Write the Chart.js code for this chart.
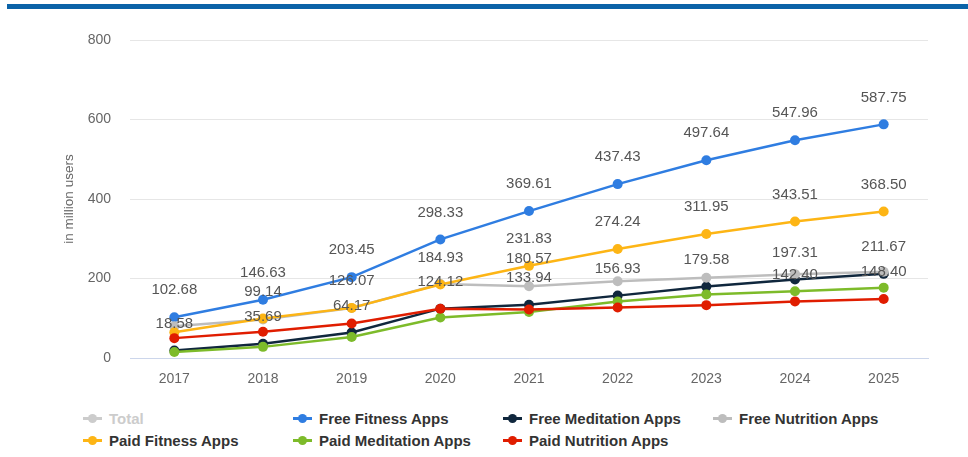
<!DOCTYPE html>
<html>
<head>
<meta charset="utf-8">
<script src="https://cdn.jsdelivr.net/npm/chart.js@4.4.1/dist/chart.umd.min.js"></script>
<style>
  body { margin: 0; background: #fff; font-family: "Liberation Sans", Arial, sans-serif; }
  #topbar { position: absolute; left: 7px; top: 4px; width: 961px; height: 5px; background: #0b63a8; }
  #wrap { position: absolute; left: 0; top: 0; width: 968px; height: 400px; }
  #legend { position: absolute; left: 83px; top: 409px; display: grid; grid-template-columns: repeat(4, 210px); row-gap: 4px; }
  .item { display: flex; align-items: center; height: 18px; font-size: 15px; font-weight: bold; color: #333; white-space: nowrap; }
  .item.off { color: #ccc; }
  .mark { position: relative; width: 19px; height: 10px; margin-right: 7px; }
  .mark .ln { position: absolute; left: 0; top: 4px; width: 19px; height: 2.5px; }
  .mark .dot { position: absolute; left: 5px; top: 1px; width: 9px; height: 9px; border-radius: 50%; }
</style>
</head>
<body>
<div id="topbar"></div>
<div id="wrap"><canvas id="line-chart"></canvas></div>
<div id="legend"></div>
<script>
const years = ['2017', '2018', '2019', '2020', '2021', '2022', '2023', '2024', '2025'];
const yTicks = [0, 200, 400, 600, 800];

const names = ['Total', 'Free Fitness Apps', 'Free Meditation Apps', 'Free Nutrition Apps',
  'Paid Fitness Apps', 'Paid Meditation Apps', 'Paid Nutrition Apps'];
const colors = ['#cccccc', '#2f7de1', '#10273d', '#bdbdbd', '#fdb515', '#7dbb2a', '#e01d00'];

// Total is switched off in the legend, so it stays empty
const total = [];
const freeFitness = [102.68, 146.63, 203.45, 298.33, 369.61, 437.43, 497.64, 547.96, 587.75];
const freeMeditation = [18.58, 35.69, 64.17, 124.12, 133.94, 156.93, 179.58, 197.31, 211.67];
const freeNutrition = [80, 97, 126, 186, 180.57, 193, 202, 211, 217];
const paidFitness = [65, 99.14, 126.07, 184.93, 231.83, 274.24, 311.95, 343.51, 368.50];
const paidMeditation = [15, 28, 53, 102, 116, 142, 160, 168, 177];
const paidNutrition = [50, 66, 87, 124, 122, 127, 133, 142.40, 148.40];

// which points carry a value label
const labelIdx = [[], [0, 1, 2, 3, 4, 5, 6, 7, 8], [0, 1, 2, 3, 4, 5, 6, 7, 8], [4], [1, 2, 3, 4, 5, 6, 7, 8], [], [7, 8]];

const series = [total, freeFitness, freeMeditation, freeNutrition, paidFitness, paidMeditation, paidNutrition];

const datasets = series.map((d, i) => ({
  label: names[i],
  data: d,
  hidden: i === 0,
  borderColor: colors[i],
  backgroundColor: colors[i],
  borderWidth: 2.5,
  pointRadius: 5,
  pointHoverRadius: 5,
  pointBorderWidth: 0,
  tension: 0,
  order: 10 - i
}));

const valueLabels = {
  id: 'valueLabels',
  afterDatasetsDraw(chart) {
    const ctx = chart.ctx;
    ctx.save();
    ctx.font = '15px "Liberation Sans", Arial, sans-serif';
    ctx.fillStyle = '#555';
    ctx.textAlign = 'center';
    ctx.textBaseline = 'middle';
    chart.data.datasets.forEach((ds, i) => {
      const meta = chart.getDatasetMeta(i);
      if (meta.hidden || ds.hidden) return;
      labelIdx[i].forEach(j => {
        const p = meta.data[j];
        if (!p) return;
        ctx.fillText(ds.data[j].toFixed(2), p.x, p.y - 27);
      });
    });
    ctx.restore();
  }
};

const font = '"Liberation Sans", Arial, sans-serif';

new Chart(document.getElementById('line-chart'), {
  type: 'line',
  data: { labels: years, datasets: datasets },
  plugins: [valueLabels],
  options: {
    responsive: true,
    maintainAspectRatio: false,
    animation: false,
    layout: { padding: { left: 61, right: 40, top: 40, bottom: 0 } },
    plugins: { legend: { display: false }, tooltip: { enabled: false } },
    scales: {
      x: {
        offset: true,
        grid: { display: false, drawTicks: false },
        border: { display: true, color: '#ccd6eb' },
        ticks: { color: '#666', padding: 13, font: { size: 14, family: font } },
        afterFit(s) { s.height = 42; }
      },
      y: {
        min: 0, max: 800,
        afterBuildTicks(s) { s.ticks = yTicks.map(v => ({ value: v })); },
        grid: { color: '#e6e6e6', drawTicks: false },
        border: { display: false },
        ticks: { color: '#666', padding: 19, font: { size: 14, family: font } },
        title: { display: true, text: 'in million users', color: '#666', padding: 0,
          font: { size: 13.5, family: font } },
        afterFit(s) { s.width = 69; }
      }
    }
  }
});

// legend with fixed columns: first row 4 items, then the rest
const legend = document.getElementById('legend');
names.forEach((n, i) => {
  const el = document.createElement('div');
  el.className = 'item' + (i === 0 ? ' off' : '');
  const c = i === 0 ? '#cccccc' : colors[i];
  el.innerHTML = '<span class="mark"><span class="ln" style="background:' + c + '"></span><span class="dot" style="background:' + c + '"></span></span>' + n;
  legend.appendChild(el);
});
</script>
</body>
</html>
